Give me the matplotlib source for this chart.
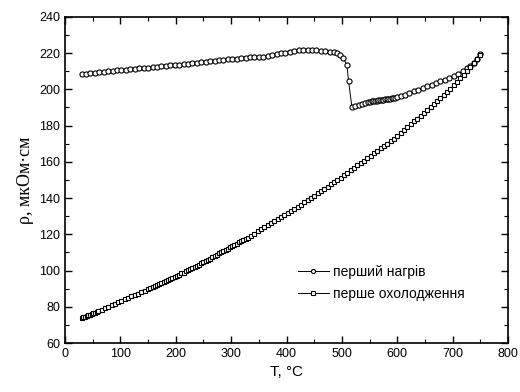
import matplotlib
matplotlib.use("Agg")
import matplotlib.pyplot as plt
from matplotlib.ticker import MultipleLocator

# перший нагрів
t_heat = [30, 38, 46, 54, 62, 70, 78, 86, 94, 102, 110, 118, 126, 134, 142, 150,
          158, 166, 174, 182, 190, 198, 206, 214, 222, 230, 238, 246, 254, 262,
          270, 278, 286, 294, 302, 310, 318, 326, 334, 342, 350, 358, 366, 374,
          382, 390, 398, 406, 414, 422, 430, 438, 446, 454, 462, 470, 478, 486,
          492, 497, 502, 509, 512, 518, 524, 530, 536, 542, 548, 551, 554, 557,
          560, 563, 566, 569, 572, 575, 578, 581, 584, 587, 590, 593, 596, 599,
          606, 614, 622, 630, 638, 646, 654, 662, 670, 678, 686, 694, 702, 710,
          718, 726, 732, 738, 744, 750]
rho_heat = [208.5, 208.7, 209.0, 209.2, 209.4, 209.7, 209.9, 210.2, 210.4, 210.6,
            210.9, 211.1, 211.3, 211.6, 211.8, 212.0, 212.3, 212.5, 212.8, 213.0,
            213.2, 213.5, 213.7, 214.0, 214.2, 214.5, 214.7, 215.0, 215.2, 215.5,
            215.8, 216.0, 216.3, 216.6, 216.8, 217.0, 217.2, 217.4, 217.6, 217.8,
            218.0, 218.1, 218.4, 218.8, 219.3, 219.8, 220.3, 220.8, 221.2, 221.5,
            221.7, 221.8, 221.7, 221.6, 221.4, 221.1, 220.8, 220.4, 220.0, 219.0,
            217.4, 213.6, 204.7, 190.4, 190.6, 191.2, 191.8, 192.6, 193.0, 193.1,
            193.3, 193.4, 193.6, 193.7, 193.9, 194.0, 194.2, 194.3, 194.5, 194.6,
            194.8, 194.9, 195.1, 195.2, 195.4, 195.5, 196.2, 197.1, 198.0, 198.9,
            199.8, 200.7, 201.6, 202.5, 203.4, 204.4, 205.4, 206.4, 207.5, 208.7,
            210.0, 211.5, 213.0, 214.7, 216.8, 219.3]

# перше охолодження
t_cool = [30, 33, 36, 39, 42, 45, 48, 51, 54, 57, 60, 66, 72, 78, 84, 90, 96, 102,
          108, 114, 120, 126, 132, 138, 144, 150, 154, 158, 162, 166, 170, 174,
          178, 182, 186, 190, 194, 198, 202, 206, 210, 214, 218, 222, 226, 230,
          234, 238, 242, 246, 250, 254, 258, 262, 266, 270, 274, 278, 282, 286,
          290, 294, 298, 302, 306, 310, 314, 318, 322, 326, 330, 336, 342, 348,
          354, 360, 366, 372, 378, 384, 390, 396, 402, 408, 414, 420, 426, 432,
          438, 444, 450, 456, 462, 468, 474, 480, 486, 492, 498, 504, 510, 516,
          522, 528, 534, 540, 546, 552, 558, 564, 570, 576, 582, 588, 594, 600,
          606, 612, 618, 624, 630, 636, 642, 648, 654, 660, 666, 672, 678, 684,
          690, 696, 702, 708, 714, 720, 726, 732, 738, 744, 750]
rho_cool = [73.8, 74.2, 74.5, 74.9, 75.3, 75.7, 76.1, 76.4, 76.8, 77.2, 77.6, 78.4,
            79.2, 80.0, 80.8, 81.7, 82.5, 83.3, 84.1, 84.9, 85.7, 86.5, 87.3, 88.1,
            88.9, 89.8, 90.4, 90.9, 91.5, 92.1, 92.7, 93.2, 93.8, 94.4, 94.9, 95.5,
            96.1, 96.7, 97.2, 97.8, 98.4, 98.9, 99.5, 100.1, 100.7, 101.2, 101.9,
            102.6, 103.2, 103.9, 104.6, 105.3, 106.0, 106.6, 107.3, 108.0, 108.7,
            109.4, 110.0, 110.7, 111.4, 112.1, 112.8, 113.4, 114.1, 114.8, 115.5,
            116.2, 116.8, 117.5, 118.2, 119.3, 120.4, 121.6, 122.7, 123.9, 125.0,
            126.1, 127.3, 128.4, 129.5, 130.7, 131.8, 133.0, 134.1, 135.2, 136.4,
            137.7, 138.9, 140.1, 141.4, 142.6, 143.8, 145.0, 146.3, 147.5, 148.7,
            150.0, 151.2, 152.6, 153.9, 155.3, 156.6, 158.0, 159.3, 160.7, 162.0,
            163.4, 164.7, 166.1, 167.4, 168.8, 170.1, 171.5, 172.8, 174.2, 175.8,
            177.4, 179.0, 180.6, 182.3, 183.9, 185.5, 187.1, 188.8, 190.4, 192.0,
            193.6, 195.2, 196.9, 198.6, 200.4, 202.2, 204.1, 206.0, 208.0, 210.1,
            212.3, 214.5, 216.8, 219.2]

plt.rcParams['font.family'] = ['Liberation Sans', 'DejaVu Sans']

fig = plt.figure(figsize=(5.2, 3.92), dpi=100)
ax = fig.add_axes([0.125, 0.125, 0.852, 0.832])

ax.plot(t_heat, rho_heat, '-o', color='black', lw=0.7, ms=3.7, mfc='white',
        mec='black', mew=0.8, label='перший нагрів')
ax.plot(t_cool, rho_cool, '-s', color='black', lw=0.7, ms=3.4, mfc='white',
        mec='black', mew=0.8, label='перше охолодження')

ax.set_xlim(0, 800)
ax.set_ylim(60, 240)
ax.xaxis.set_major_locator(MultipleLocator(100))
ax.xaxis.set_minor_locator(MultipleLocator(50))
ax.yaxis.set_major_locator(MultipleLocator(20))
ax.yaxis.set_minor_locator(MultipleLocator(10))
ax.tick_params(which='both', direction='in', top=True, right=True, labelsize=9)
ax.tick_params(which='major', length=5, width=1)
ax.tick_params(which='minor', length=3, width=0.8)
for s in ax.spines.values():
    s.set_linewidth(1.2)

ax.set_xlabel('T, °C', fontsize=11)
ax.set_ylabel('ρ, мкОм·см', fontsize=13, family=['Liberation Serif', 'DejaVu Serif'])

ax.legend(loc='lower right', bbox_to_anchor=(0.93, 0.09), frameon=False,
          fontsize=10, markerscale=0.8, handlelength=2.2, handletextpad=0.3,
          labelspacing=0.6)

fig.savefig('out.png', dpi=100)
